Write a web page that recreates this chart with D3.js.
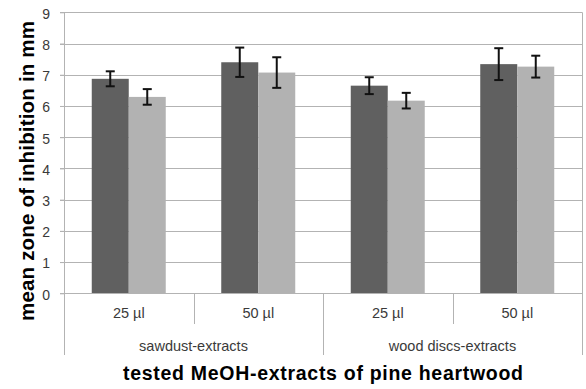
<!DOCTYPE html>
<html>
<head>
<meta charset="utf-8">
<script src="https://cdn.jsdelivr.net/npm/d3@7"></script>
<style>
  html, body { margin: 0; padding: 0; background: #fff; }
  svg { display: block; font-family: "Liberation Sans", Arial, sans-serif; }
</style>
</head>
<body>
<svg id="chart" width="586" height="389"></svg>
<script>
// Sub-categories (volume) and their parent groups (extract type)
const doses = ["25 µl", "50 µl", "25 µl", "50 µl"];
const groups = ["sawdust-extracts", "wood discs-extracts"];
const groupOf = [0, 0, 1, 1];

// Two series per category: means and their error (±)
const seriesA = [6.87, 7.40, 6.65, 7.34];
const errorA  = [0.24, 0.47, 0.27, 0.51];
const seriesB = [6.29, 7.07, 6.17, 7.26];
const errorB  = [0.25, 0.49, 0.25, 0.35];

const yTicks = [0, 1, 2, 3, 4, 5, 6, 7, 8, 9];

const svg = d3.select("#chart");
const pLeft = 64, pRight = 582, pTop = 12.3, pBottom = 293.3;

const y = d3.scaleLinear().domain([0, 9]).range([pBottom, pTop]);
const x = d3.scaleBand().domain(d3.range(doses.length)).range([pLeft, pRight]).paddingInner(0).paddingOuter(0);
const inner = d3.scaleBand().domain(["A", "B"]).range([0, x.bandwidth()]).paddingOuter(0.75).paddingInner(0);

const lineColor = "#b3b3b3";
const textColor = "#3a3a3a";

// gridlines
svg.append("g").selectAll("line").data(yTicks.filter(d => d > 0)).join("line")
  .attr("x1", pLeft - 4).attr("x2", pRight)
  .attr("y1", d => Math.round(y(d)) + 0.5).attr("y2", d => Math.round(y(d)) + 0.5)
  .attr("stroke", lineColor).attr("stroke-width", 1);

// y axis
const yAxis = svg.append("g").attr("transform", `translate(${pLeft},0)`)
  .call(d3.axisLeft(y).tickValues(yTicks).tickSize(4).tickPadding(10));
yAxis.select(".domain").remove();
yAxis.selectAll(".tick line").attr("stroke", lineColor);
yAxis.selectAll(".tick text").attr("font-size", 14).attr("fill", textColor).attr("dy", "0.42em")
  .attr("font-family", "Liberation Sans, Arial, sans-serif");

// bars
const data = d3.range(doses.length).flatMap(i => [
  { i, k: "A", v: seriesA[i], e: errorA[i], c: "#606060" },
  { i, k: "B", v: seriesB[i], e: errorB[i], c: "#b2b2b2" }
]);
svg.append("g").selectAll("rect").data(data).join("rect")
  .attr("x", d => x(d.i) + inner(d.k))
  .attr("width", inner.bandwidth())
  .attr("y", d => y(d.v))
  .attr("height", d => y(0) - y(d.v))
  .attr("fill", d => d.c);

// error bars
const eb = svg.append("g").attr("stroke", "#111").attr("stroke-width", 2);
data.forEach(d => {
  const cx = x(d.i) + inner(d.k) + inner.bandwidth() / 2;
  eb.append("line").attr("x1", cx).attr("x2", cx).attr("y1", y(d.v + d.e)).attr("y2", y(d.v - d.e));
  eb.append("line").attr("x1", cx - 4.5).attr("x2", cx + 4.5).attr("y1", y(d.v + d.e)).attr("y2", y(d.v + d.e));
  eb.append("line").attr("x1", cx - 4.5).attr("x2", cx + 4.5).attr("y1", y(d.v - d.e)).attr("y2", y(d.v - d.e));
});

// axes frame
const frame = svg.append("g").attr("stroke", lineColor).attr("stroke-width", 1);
frame.append("line").attr("x1", pLeft - 4).attr("x2", pRight).attr("y1", Math.round(pBottom) + 0.5).attr("y2", Math.round(pBottom) + 0.5);
frame.append("line").attr("x1", pLeft + 0.5).attr("x2", pLeft + 0.5).attr("y1", pTop).attr("y2", 355);
frame.append("line").attr("x1", pRight + 0.5).attr("x2", pRight + 0.5).attr("y1", pTop).attr("y2", 355);
// dividers between doses
[1, 3].forEach(i => {
  const xx = Math.round(x(i)) + 0.5;
  frame.append("line").attr("x1", xx).attr("x2", xx).attr("y1", pBottom).attr("y2", 324);
});
// divider between groups
{
  const xx = Math.round(x(2)) + 0.5;
  frame.append("line").attr("x1", xx).attr("x2", xx).attr("y1", pBottom).attr("y2", 355);
}

// category labels
svg.append("g").selectAll("text").data(doses).join("text")
  .attr("x", (d, i) => x(i) + x.bandwidth() / 2)
  .attr("y", 318)
  .attr("text-anchor", "middle").attr("font-size", 14.5).attr("fill", textColor)
  .text(d => d);

svg.append("g").selectAll("text").data(groups).join("text")
  .attr("x", (d, g) => {
    const idx = d3.range(doses.length).filter(i => groupOf[i] === g);
    return (x(idx[0]) + x(idx[idx.length - 1]) + x.bandwidth()) / 2;
  })
  .attr("y", 351)
  .attr("text-anchor", "middle").attr("font-size", 14.5).attr("fill", textColor)
  .text(d => d);

// axis titles
svg.append("text")
  .attr("x", 323).attr("y", 380)
  .attr("text-anchor", "middle").attr("font-size", 19.5).attr("font-weight", "bold").attr("fill", "#000")
  .attr("textLength", 400).attr("lengthAdjust", "spacing")
  .text("tested MeOH-extracts of pine heartwood");

svg.append("text")
  .attr("transform", "translate(33.5,171) rotate(-90)")
  .attr("text-anchor", "middle").attr("font-size", 20.5).attr("font-weight", "bold").attr("fill", "#000")
  .attr("textLength", 300).attr("lengthAdjust", "spacing")
  .text("mean zone of inhibition in mm");
</script>
</body>
</html>
